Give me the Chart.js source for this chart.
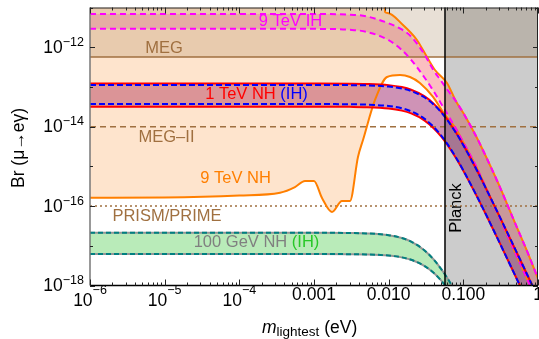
<!DOCTYPE html>
<html><head><meta charset="utf-8">
<script src="https://cdn.jsdelivr.net/npm/chart.js@4.4.1/dist/chart.umd.min.js"></script>
<style>html,body{margin:0;padding:0;background:#fff;overflow:hidden}canvas{display:block}</style>
</head><body>
<canvas id="c" width="539" height="339"></canvas>
<script>
// ---------------- data ----------------
const mBand = [1e-6, 1e-4, 1e-3, 0.003, 0.005, 0.01, 0.015, 0.02, 0.03, 0.04, 0.05, 0.06, 0.08, 0.1, 0.15, 0.2, 0.3, 0.5, 0.7, 1.0];
const tevNHUpper = [1.22e-13,1.22e-13,1.22e-13,1.21e-13,1.19e-13,1.11e-13,9.9e-14,8.5e-14,5.85e-14,3.8e-14,2.44e-14,1.58e-14,7.0e-15,3.46e-15,8.3e-16,2.83e-16,5.9e-17,7.9e-18,2.07e-18,5.0e-19];
const tevNHLower = [3.18e-14,3.18e-14,3.18e-14,3.15e-14,3.10e-14,2.86e-14,2.53e-14,2.15e-14,1.44e-14,9.1e-15,5.75e-15,3.66e-15,1.6e-15,7.7e-16,1.83e-16,6.2e-17,1.29e-17,1.71e-18,4.5e-19,1.08e-19];
const tevIHUpper = [1.12e-13,1.12e-13,1.12e-13,1.11e-13,1.094e-13,1.02e-13,9.15e-14,7.9e-14,5.5e-14,3.63e-14,2.35e-14,1.53e-14,6.9e-15,3.42e-15,8.3e-16,2.83e-16,5.9e-17,7.9e-18,2.07e-18,5.0e-19];
const tevIHLower = [3.7e-14,3.7e-14,3.7e-14,3.67e-14,3.59e-14,3.3e-14,2.89e-14,2.43e-14,1.59e-14,9.9e-15,6.1e-15,3.85e-15,1.65e-15,7.9e-16,1.85e-16,6.25e-17,1.29e-17,1.71e-18,4.5e-19,1.08e-19];
const gevUpper = [2.13e-17,2.13e-17,2.13e-17,2.10e-17,2.05e-17,1.85e-17,1.57e-17,1.28e-17,7.75e-18,4.53e-18,2.67e-18,1.62e-18,6.6e-19,3.1e-19,7e-20,2.3e-20,4.6e-21,6e-22,1.6e-22,4e-23];
const gevLower = [6.2e-18,6.2e-18,6.2e-18,6.15e-18,6.06e-18,5.67e-18,5.11e-18,4.44e-18,3.13e-18,2.09e-18,1.36e-18,8.96e-19,4.08e-19,2.03e-19,4.95e-20,1.7e-20,3.6e-21,4.8e-22,1.25e-22,3e-23];
const ih9Upper = [6.86e-12,6.86e-12,6.85e-12,6.6e-12,6.0e-12,4.0e-12,2.8e-12,1.85e-12,6.7e-13,2.6e-13,1.45e-13,8.9e-14,4.3e-14,2.2e-14,5.5e-15,1.8e-15,3.4e-16,3.5e-17,8e-18,1.5e-18];
const ih9Lower = [2.92e-12,2.92e-12,2.9e-12,2.75e-12,2.45e-12,1.5e-12,8.5e-13,4.8e-13,1.75e-13,7.8e-14,3.9e-14,2.2e-14,8.7e-15,4.0e-15,9.5e-16,2.9e-16,5.5e-17,6.5e-18,1.6e-18,3.5e-19];

const nh9LowerM  = [1e-6,1e-5,1e-4,3.51e-4,5.56e-4,7.57e-4,1.0e-3,1.28e-3,1.74e-3,2.37e-3,3.03e-3,3.88e-3,4.53e-3,6.56e-3,9.5e-3,0.0142,0.0193,0.0262,0.0393,0.0535,0.08,0.1,0.15,0.2,0.3,0.5,0.7,1.0];
const nh9LowerBr = [1.62e-16,1.65e-16,1.85e-16,2.17e-16,3.0e-16,4.3e-16,4.3e-16,1.6e-16,7.1e-17,1.34e-16,1.34e-16,1.72e-15,4.6e-15,4.7e-14,1.78e-13,2.0e-13,1.78e-13,1.26e-13,5.6e-14,2.33e-14,8.7e-15,4.0e-15,9.5e-16,2.9e-16,5.5e-17,6.5e-18,1.6e-18,3.5e-19];
const nh9UpperM  = [1e-6,0.00893,0.00895,0.0096,0.01556,0.0239,0.0326,0.0417,0.0604,0.08,0.1,0.15,0.2,0.3,0.5,0.7,1.0];
const nh9UpperBr = [1e-10,1e-10,7.7e-12,7.26e-12,3.62e-12,1.52e-12,5.66e-13,2.67e-13,1.26e-13,4.3e-14,2.2e-14,5.5e-15,1.8e-15,3.4e-16,3.5e-17,8e-18,1.5e-18];

const megLimit = 5.7e-13;
const megIILimit = 1.0e-14;
const prismLimit = 1.0e-16;
const planckMass = 0.0568;

const xTickValues = [1e-6,1e-5,1e-4,1e-3,1e-2,1e-1,1];
const xTickLabels = ['10^-6','10^-5','10^-4','0.001','0.010','0.100','1'];
const yTickValues = [1e-18,1e-16,1e-14,1e-12];
const yTickLabels = ['10^-18','10^-16','10^-14','10^-12'];
const yMinorTickValues = [1e-17,1e-15,1e-13,1e-11];

// ---------------- styling ----------------
const FONT = '"Liberation Sans", Arial, Helvetica, sans-serif';
const C = {
  orangeFill: 'rgba(250,150,60,0.26)',
  megFill: 'rgba(140,100,50,0.2)',
  planckFill: 'rgba(0,0,0,0.2)',
  pinkFill: 'rgba(245,90,200,0.3)',
  purpleFill: 'rgba(150,20,95,0.46)',
  greenFill: 'rgba(100,210,100,0.45)',
  brown: 'rgb(160,112,64)',
  orange: 'rgb(255,127,0)',
  magenta: 'rgb(255,0,255)',
  red: 'rgb(255,0,0)',
  blue: 'rgb(0,0,255)',
  gray: 'rgb(150,150,150)',
  teal: 'rgb(0,128,128)',
  green: 'rgb(40,200,40)'
};

const pts = (m, b) => m.map((x, i) => ({x: x, y: b[i]}));
const flat = (v) => [{x: 1e-6, y: v}, {x: 1, y: v}];

function fillDs(data, order, fill, color) {
  return {data, order, fill: fill === null ? false : (typeof fill === 'number' ? {target: fill, above: color, below: color} : fill),
    backgroundColor: color, borderWidth: 0, borderColor: 'rgba(0,0,0,0)', pointRadius: 0, cubicInterpolationMode: 'monotone'};
}
function lineDs(data, order, color, width, dash, mono) {
  return {data, order, fill: false, borderColor: color, borderWidth: width, borderDash: dash || [], pointRadius: 0,
    cubicInterpolationMode: mono === false ? 'default' : 'monotone', tension: 0};
}

const datasets = [
  fillDs(pts(mBand, ih9Lower), 100, 1, C.pinkFill),          //0
  fillDs(pts(mBand, ih9Upper), 99, null, C.pinkFill),        //1
  fillDs(pts(mBand, tevNHLower), 98, 3, C.purpleFill),       //2
  fillDs(pts(mBand, tevNHUpper), 97, null, C.purpleFill),    //3
  fillDs(pts(mBand, gevLower), 96, 5, C.greenFill),          //4
  fillDs(pts(mBand, gevUpper), 95, null, C.greenFill),       //5
  fillDs(pts(nh9LowerM, nh9LowerBr), 94, 7, C.orangeFill),   //6
  fillDs(pts(nh9UpperM, nh9UpperBr), 93, null, C.orangeFill),//7
  fillDs(flat(megLimit), 92, 'end', C.megFill),              //8
  fillDs([{x: planckMass, y: 1e-10}, {x: 1, y: 1e-10}], 91, 'start', C.planckFill), //9
  lineDs(flat(megLimit), 60, C.brown, 1.5),
  lineDs(flat(megIILimit), 59, C.brown, 1.5, [6, 4]),
  lineDs(flat(prismLimit), 58, C.brown, 1.5, [2, 3]),
  lineDs(pts(nh9LowerM, nh9LowerBr), 57, C.orange, 2),
  lineDs(pts(nh9UpperM, nh9UpperBr), 56, C.orange, 2),
  lineDs(pts(mBand, ih9Upper), 55, C.magenta, 2, [6, 4]),
  lineDs(pts(mBand, ih9Lower), 54, C.magenta, 2, [6, 4]),
  lineDs(pts(mBand, tevNHUpper), 53, C.red, 2),
  lineDs(pts(mBand, tevNHLower), 52, C.red, 2),
  lineDs(pts(mBand, tevIHUpper), 51, C.blue, 2, [6, 3]),
  lineDs(pts(mBand, tevIHLower), 50, C.blue, 2, [6, 3]),
  lineDs(pts(mBand, gevUpper), 49, C.gray, 2),
  lineDs(pts(mBand, gevLower), 48, C.gray, 2),
  lineDs(pts(mBand, gevUpper), 47, C.teal, 2, [5, 3]),
  lineDs(pts(mBand, gevLower), 46, C.teal, 2, [5, 3]),
  lineDs([{x: planckMass, y: 1e-19}, {x: planckMass, y: 1e-10}], 45, '#000', 1.5, [], false)
];

const labels = [
  {parts: [['9 TeV IH', C.magenta]], x: 290.5, y: 21},
  {parts: [['MEG', C.brown]], x: 164, y: 48},
  {parts: [['1 TeV NH ', C.red], ['(IH)', C.blue]], x: 256.5, y: 94},
  {parts: [['MEG\u2013II', C.brown]], x: 166.5, y: 137.5},
  {parts: [['9 TeV NH', C.orange]], x: 235.5, y: 178},
  {parts: [['PRISM/PRIME', C.brown]], x: 167, y: 216.5},
  {parts: [['100 GeV NH ', 'rgb(128,128,128)'], ['(IH)', C.green]], x: 256.5, y: 242.5}
];

function drawPow(ctx, label, x, y, align, big, small, rise) {
  const [base, ex] = label.split('^');
  const exTxt = ex.replace('-', '\u2212');
  ctx.font = big + 'px ' + FONT;
  const wb = ctx.measureText(base).width;
  ctx.font = small + 'px ' + FONT;
  const we = ctx.measureText(exTxt).width;
  const tot = wb + we;
  let x0 = align === 'right' ? x - tot : x - tot / 2;
  ctx.textAlign = 'left'; ctx.textBaseline = 'middle';
  ctx.font = big + 'px ' + FONT; ctx.fillText(base, x0, y);
  ctx.font = small + 'px ' + FONT; ctx.fillText(exTxt, x0 + wb, y - rise);
}

const decor = {
  id: 'decor',
  afterDatasetsDraw(chart) {
    const ctx = chart.ctx, a = chart.chartArea, xs = chart.scales.x, ys = chart.scales.y;
    ctx.save();
    ctx.font = '16.5px ' + FONT; ctx.textBaseline = 'middle'; ctx.textAlign = 'left';
    for (const L of labels) {
      let w = 0; for (const p of L.parts) w += ctx.measureText(p[0]).width;
      let x = L.x - w / 2;
      for (const p of L.parts) { ctx.fillStyle = p[1]; ctx.fillText(p[0], x, L.y); x += ctx.measureText(p[0]).width; }
    }
    ctx.save(); ctx.translate(456.5, 208); ctx.rotate(-Math.PI / 2);
    ctx.fillStyle = '#000'; ctx.textAlign = 'center'; ctx.font = '16.5px ' + FONT; ctx.fillText('Planck', 0, 0);
    ctx.restore();
    ctx.lineWidth = 1; ctx.strokeStyle = '#222';
    ctx.beginPath(); ctx.moveTo(a.left, a.top + 0.5); ctx.lineTo(a.right, a.top + 0.5); ctx.moveTo(a.right - 0.5, a.top); ctx.lineTo(a.right - 0.5, a.bottom); ctx.stroke();
    ctx.lineWidth = 1.5; ctx.strokeStyle = '#000';
    ctx.beginPath(); ctx.moveTo(a.left, a.bottom); ctx.lineTo(a.right, a.bottom); ctx.stroke();
    ctx.strokeStyle = '#777';
    ctx.beginPath(); ctx.moveTo(a.left, a.top); ctx.lineTo(a.left, a.bottom); ctx.stroke();
    ctx.lineWidth = 1; ctx.strokeStyle = '#222';
    const tick = (x1, y1, x2, y2) => { ctx.beginPath(); ctx.moveTo(x1, y1); ctx.lineTo(x2, y2); ctx.stroke(); };
    for (let d = -6; d < 0; d++) {
      for (let k = 2; k <= 9; k++) {
        const px = Math.round(xs.getPixelForValue(k * Math.pow(10, d))) + 0.5;
        tick(px, a.bottom, px, a.bottom - 3); tick(px, a.top, px, a.top + 3);
      }
    }
    for (const v of xTickValues) {
      const px = Math.round(xs.getPixelForValue(v)) + 0.5;
      tick(px, a.bottom, px, a.bottom - 6); tick(px, a.top, px, a.top + 6);
    }
    for (const v of yTickValues) {
      const py = Math.round(ys.getPixelForValue(v)) + 0.5;
      tick(a.left, py, a.left + 5, py); tick(a.right, py, a.right - 5, py);
    }
    for (const v of yMinorTickValues) {
      const py = Math.round(ys.getPixelForValue(v)) + 0.5;
      tick(a.left, py, a.left + 3, py); tick(a.right, py, a.right - 3, py);
    }
    ctx.fillStyle = '#000';
    xTickValues.forEach((v, i) => {
      const px = xs.getPixelForValue(v), lab = xTickLabels[i];
      if (lab.indexOf('^') > 0) drawPow(ctx, lab, px, 301, 'center', 17.5, 12.5, 10);
      else { ctx.font = '17.5px ' + FONT; ctx.textAlign = 'center'; ctx.textBaseline = 'middle'; ctx.fillText(lab, px, 295); }
    });
    yTickValues.forEach((v, i) => {
      const py = ys.getPixelForValue(v);
      drawPow(ctx, yTickLabels[i], 84, py + 1, 'right', 17.5, 12.5, 6);
    });
    ctx.textAlign = 'left'; ctx.textBaseline = 'alphabetic';
    let x = 262;
    ctx.font = 'italic 17.5px ' + FONT; ctx.fillText('m', x, 333); x += ctx.measureText('m').width;
    ctx.font = '13.5px ' + FONT; ctx.fillText('lightest', x, 336); x += ctx.measureText('lightest').width;
    ctx.font = '17.5px ' + FONT; ctx.fillText(' (eV)', x, 333);
    ctx.save(); ctx.translate(19, 148); ctx.rotate(-Math.PI / 2);
    ctx.textAlign = 'center'; ctx.textBaseline = 'middle'; ctx.font = '17.5px ' + FONT;
    ctx.fillText('Br (\u03bc\u2192e\u03b3)', 0, 0);
    ctx.restore();
    ctx.restore();
  }
};

new Chart(document.getElementById('c'), {
  type: 'line',
  data: {datasets},
  options: {
    responsive: false, animation: false, devicePixelRatio: 1,
    layout: {padding: {left: 90, top: 7.5, right: 1, bottom: 53.5}},
    plugins: {legend: {display: false}, tooltip: {enabled: false}, filler: {propagate: false}},
    scales: {
      x: {type: 'logarithmic', min: 1e-6, max: 1, display: false},
      y: {type: 'logarithmic', min: 1e-18, max: 1e-11, display: false}
    }
  },
  plugins: [decor]
});
</script>
</body></html>
